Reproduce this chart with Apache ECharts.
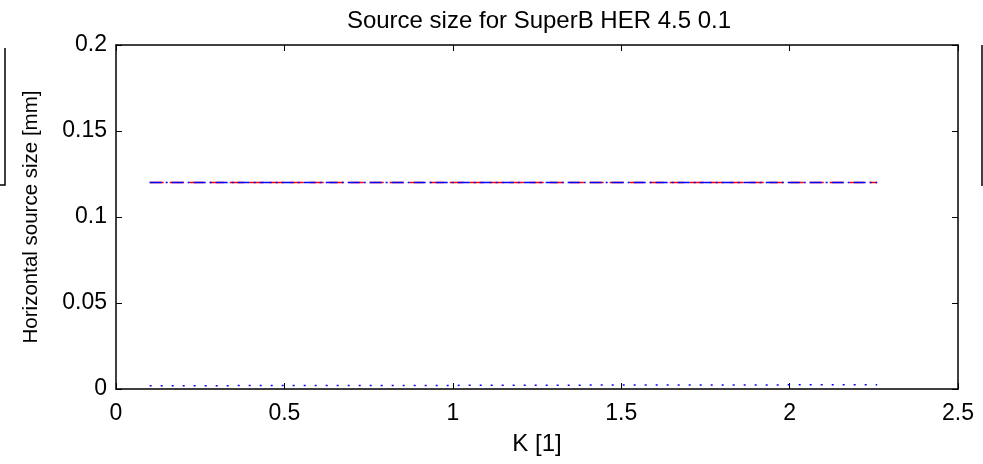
<!DOCTYPE html>
<html><head><meta charset="utf-8">
<script src="https://cdn.jsdelivr.net/npm/echarts@6/dist/echarts.min.js"></script>
<style>html,body{margin:0;padding:0;background:#fff}#c{width:983px;height:464px}</style>
</head><body><div id="c"></div>
<script>
const kValues = [0.1, 0.5, 1.0, 1.5, 2.0, 2.26];
const sizeRed = [0.12, 0.12, 0.12, 0.12, 0.12, 0.12];
const sizeBlue = [0.12, 0.12, 0.12, 0.12, 0.12, 0.12];
const kDot = [0.1, 0.5, 1.0, 1.5, 2.0, 2.26];
const sizeDot = [0.0019, 0.002, 0.0021, 0.0023, 0.0024, 0.0025];
const xTicks = [0, 0.5, 1, 1.5, 2, 2.5];
const yTicks = [0, 0.05, 0.1, 0.15, 0.2];

const font = 'Liberation Sans, Arial, Helvetica, sans-serif';
const chart = echarts.init(document.getElementById('c'));
const fmt = v => String(+v.toFixed(2));
const lbl = {color:'#000', fontSize:23, fontFamily:font};
chart.setOption({
  animation:false,
  title:{text:'Source size for SuperB HER 4.5 0.1', left:534, top:4, textAlign:'center',
    textStyle:{fontSize:24, fontWeight:'normal', color:'#000', fontFamily:font}},
  grid:{left:116, right:25, top:45, bottom:75},
  xAxis:[{type:'value', min:0, max:2.5, interval:0.5, name:'K [1]', nameLocation:'middle', nameGap:43,
    nameTextStyle:{fontSize:24, color:'#000', fontFamily:font},
    axisLine:{show:true, lineStyle:{color:'#000', width:1.5}},
    axisTick:{show:true, inside:true, length:6, lineStyle:{color:'#000'}},
    axisLabel:Object.assign({margin:13, formatter:fmt}, lbl), splitLine:{show:false}},
   {type:'value', position:'top', min:0, max:2.5, interval:0.5,
    axisLine:{show:true, onZero:false, lineStyle:{color:'#000', width:1.5}},
    axisTick:{show:true, inside:true, length:6, lineStyle:{color:'#000'}},
    axisLabel:{show:false}, splitLine:{show:false}}],
  yAxis:[{type:'value', min:0, max:0.2, interval:0.05, name:'Horizontal source size [mm]', nameLocation:'middle', nameGap:74,
    nameTextStyle:{fontSize:20.5, color:'#000', fontFamily:font},
    axisLine:{show:true, lineStyle:{color:'#000', width:1.5}},
    axisTick:{show:true, inside:true, length:6, lineStyle:{color:'#000'}},
    axisLabel:Object.assign({margin:9, formatter:fmt}, lbl), splitLine:{show:false}},
   {type:'value', position:'right', min:0, max:0.2, interval:0.05,
    axisLine:{show:true, onZero:false, lineStyle:{color:'#000', width:1.5}},
    axisTick:{show:true, inside:true, length:6, lineStyle:{color:'#000'}},
    axisLabel:{show:false}, splitLine:{show:false}}],
  series:[
    {type:'line', data:kValues.map((k,i)=>[k,sizeRed[i]]), symbol:'none',
      lineStyle:{color:'#ff0000', width:1.5, type:[14,6]}},
    {type:'line', data:kValues.map((k,i)=>[k,sizeBlue[i]]), symbol:'none',
      lineStyle:{color:'#0000ff', width:1.5, type:[12,4,2,4]}},
    {type:'line', data:kDot.map((k,i)=>[k,sizeDot[i]]), symbol:'none',
      lineStyle:{color:'#0000ff', width:1.5, type:[2,9]}}
  ],
  graphic:[
    {type:'polyline', shape:{points:[[5,48],[5,185],[0,185]]}, style:{stroke:'#000', lineWidth:1.5, fill:null}},
    {type:'line', shape:{x1:982,y1:45,x2:982,y2:186}, style:{stroke:'#000', lineWidth:1.5}}
  ]
});
</script></body></html>
